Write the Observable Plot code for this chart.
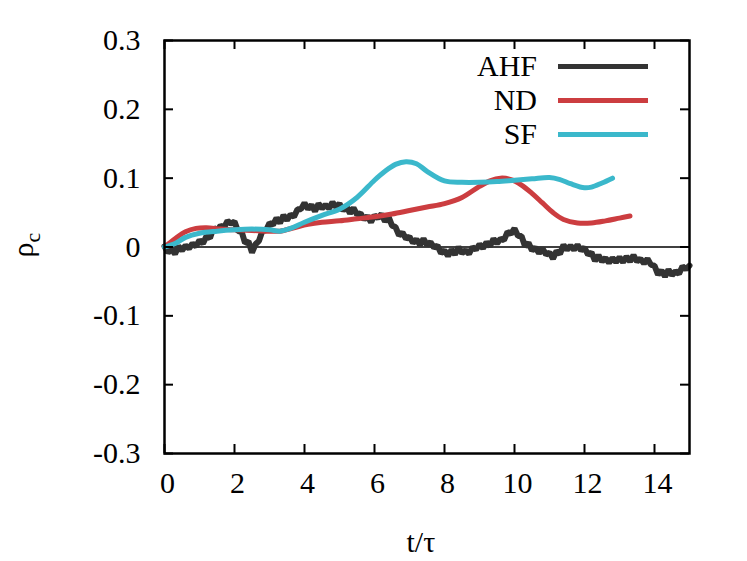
<!DOCTYPE html>
<html>
<head>
<meta charset="utf-8">
<script src="https://cdn.jsdelivr.net/npm/d3@7"></script>
<script src="https://cdn.jsdelivr.net/npm/@observablehq/plot@0.6"></script>
<style>
  html, body { margin: 0; padding: 0; background: #fff; }
  #wrap { position: relative; width: 747px; height: 561px; font-family: "Liberation Serif", "Times New Roman", Times, Tinos, "Nimbus Roman", "DejaVu Serif", "Noto Serif", serif; }
  .lbl { position: absolute; font-size: 30px; color: #000; white-space: nowrap; }
  .leg { position: absolute; font-size: 30px; color: #000; text-align: right; width: 120px; line-height: 30px; }
  .legline { position: absolute; height: 5px; width: 90px; }
</style>
</head>
<body>
<div id="wrap"></div>
<script>
// ---- data ----
const seriesNames = ["AHF", "ND", "SF"];
const seriesColors = ["#333333", "#cc3d40", "#3bb8cb"];

const xTicks = [0, 2, 4, 6, 8, 10, 12, 14];
const yTicks = [-0.3, -0.2, -0.1, 0, 0.1, 0.2, 0.3];
const yTickLabels = ["-0.3", "-0.2", "-0.1", "0", "0.1", "0.2", "0.3"];

// AHF sampled every 0.1 from t = 0 to 15
const ahfStart = 0, ahfStep = 0.1;
const ahfV = [
  0.001,-0.008,-0.003,-0.010,0.001,-0.005,0.002,-0.002,0.005,0.001,
  0.010,0.005,0.016,0.013,0.028,0.023,0.031,0.028,0.038,0.034,
  0.037,0.023,0.023,0.006,0.008,-0.008,0.004,0.009,0.024,0.024,
  0.035,0.032,0.042,0.035,0.046,0.039,0.047,0.044,0.055,0.055,
  0.064,0.055,0.061,0.052,0.063,0.056,0.061,0.056,0.065,0.058,
  0.063,0.053,0.059,0.049,0.057,0.047,0.049,0.040,0.045,0.036,
  0.046,0.042,0.048,0.037,0.044,0.031,0.029,0.017,0.021,0.012,
  0.015,0.006,0.011,0.003,0.012,0.003,0.007,-0.001,0.002,-0.009,
  -0.005,-0.013,-0.004,-0.011,0.000,-0.009,-0.005,-0.010,0.000,-0.004,
  0.004,-0.002,0.007,0.001,0.012,0.005,0.012,0.010,0.022,0.019,
  0.027,0.016,0.016,0.001,0.006,-0.005,-0.001,-0.009,-0.002,-0.011,
  -0.008,-0.017,-0.006,-0.010,0.003,-0.004,0.002,-0.004,0.003,-0.005,
  -0.001,-0.011,-0.008,-0.020,-0.012,-0.021,-0.016,-0.023,-0.016,-0.022,
  -0.015,-0.022,-0.014,-0.021,-0.012,-0.021,-0.017,-0.024,-0.017,-0.026,
  -0.027,-0.040,-0.034,-0.043,-0.033,-0.041,-0.035,-0.039,-0.028,-0.032,
  -0.027
];

const ndT = [0,0.3,0.6,0.9,1.2,1.6,2,2.5,3,3.3,3.7,4.1,4.5,5,5.5,6,6.5,7,7.5,8,8.5,9,9.3,9.6,9.9,10.2,10.5,10.8,11.1,11.4,11.8,12.2,12.6,13,13.3];
const ndV = [0,0.012,0.022,0.027,0.028,0.026,0.025,0.024,0.023,0.023,0.028,0.033,0.036,0.038,0.041,0.044,0.048,0.053,0.058,0.063,0.072,0.088,0.096,0.100,0.098,0.090,0.078,0.064,0.050,0.040,0.035,0.035,0.038,0.042,0.045];

const sfT = [0,0.3,0.6,1,1.5,2,2.5,3,3.3,3.6,4,4.5,5,5.5,6,6.3,6.6,6.9,7.2,7.5,8,8.5,9,9.5,10,10.5,11,11.3,11.6,12,12.2,12.5,12.8];
const sfV = [0,0.005,0.014,0.020,0.023,0.025,0.026,0.025,0.023,0.027,0.036,0.046,0.055,0.072,0.097,0.110,0.120,0.124,0.121,0.110,0.096,0.094,0.094,0.095,0.097,0.099,0.101,0.098,0.092,0.086,0.087,0.093,0.100];

// ---- build ----
const W = 747, H = 561, mL = 164, mR = 58, mT = 40, mB = 108;
const pw = W - mL - mR, ph = H - mT - mB, tk = 9;
const serif = "'Liberation Serif', 'Times New Roman', Times, Tinos, 'Nimbus Roman', 'DejaVu Serif', 'Noto Serif', serif";

const ahf = ahfV.map((v, i) => ({t: ahfStart + i * ahfStep, v}));
const nd = ndT.map((t, i) => ({t, v: ndV[i]}));
const sf = sfT.map((t, i) => ({t, v: sfV[i]}));

const chart = Plot.plot({
  width: W, height: H,
  marginLeft: mL, marginRight: mR, marginTop: mT, marginBottom: mB,
  style: {fontFamily: serif, fontSize: "30px", background: "#fff", color: "#000"},
  x: {domain: [0, 15]},
  y: {domain: [-0.3, 0.3]},
  marks: [
    Plot.ruleY([0], {stroke: "#000", strokeWidth: 1.5}),
    Plot.line(ahf, {x: "t", y: "v", stroke: seriesColors[0], strokeWidth: 6, strokeLinejoin: "miter"}),
    Plot.line(nd, {x: "t", y: "v", stroke: seriesColors[1], strokeWidth: 5, curve: "catmull-rom"}),
    Plot.line(sf, {x: "t", y: "v", stroke: seriesColors[2], strokeWidth: 5, curve: "catmull-rom"}),
    Plot.tickY(yTicks, {y: d => d, insetRight: pw - tk, stroke: "#000", strokeWidth: 2}),
    Plot.tickY(yTicks, {y: d => d, insetLeft: pw - tk, stroke: "#000", strokeWidth: 2}),
    Plot.tickX(xTicks, {x: d => d, insetTop: ph - tk, stroke: "#000", strokeWidth: 2}),
    Plot.tickX(xTicks, {x: d => d, insetBottom: ph - tk, stroke: "#000", strokeWidth: 2}),
    Plot.frame({stroke: "#000", strokeWidth: 2.5}),
    Plot.axisY({ticks: yTicks, tickSize: 0, tickPadding: 24, label: null, tickFormat: (d, i) => yTickLabels[i], fontSize: 30, fontFamily: serif}),
    Plot.axisX({ticks: xTicks, tickSize: 0, tickPadding: 18, label: null, fontSize: 30, fontFamily: serif, dx: 3})
  ]
});

const wrap = document.getElementById("wrap");
wrap.appendChild(chart);

// axis titles
const xl = document.createElement("div");
xl.className = "lbl";
xl.textContent = "t/τ";
xl.style.left = (mL + pw / 2 - 20) + "px";
xl.style.top = "525px";
wrap.appendChild(xl);

const yl = document.createElement("div");
yl.className = "lbl";
yl.innerHTML = "ρ<sub style='font-size:22px'>c</sub>";
yl.style.left = "14px";
yl.style.top = "225px";
yl.style.transform = "rotate(-90deg)";
wrap.appendChild(yl);

// legend
seriesNames.forEach((name, i) => {
  const y = 66 + i * 34;
  const t = document.createElement("div");
  t.className = "leg";
  t.textContent = name;
  t.style.left = (537 - 120) + "px";
  t.style.top = (y - 15) + "px";
  wrap.appendChild(t);
  const l = document.createElement("div");
  l.className = "legline";
  l.style.left = "558px";
  l.style.top = (y - 2) + "px";
  l.style.background = seriesColors[i];
  wrap.appendChild(l);
});
</script>
</body>
</html>
